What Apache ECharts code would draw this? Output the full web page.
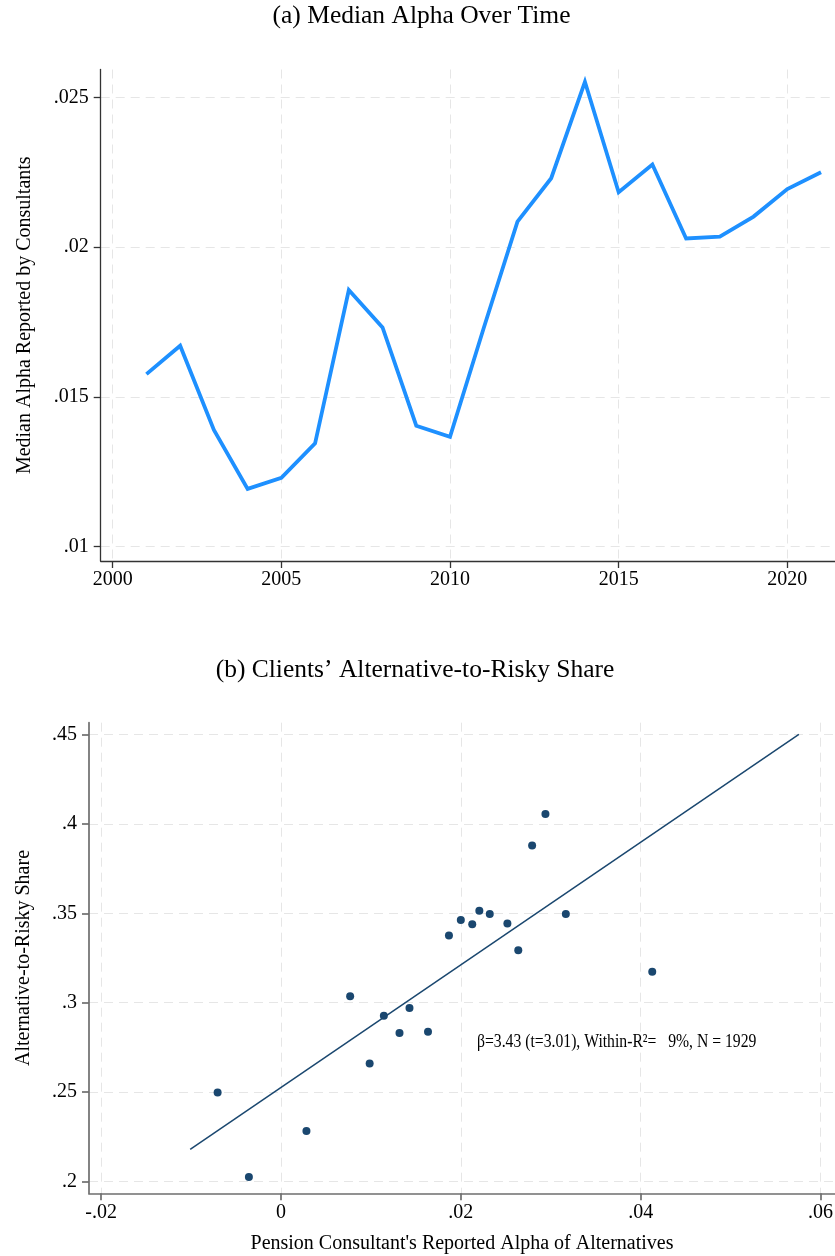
<!DOCTYPE html>
<html><head><meta charset="utf-8">
<script src="https://cdn.jsdelivr.net/npm/echarts@6/dist/echarts.min.js"></script>
<style>html,body{margin:0;padding:0;background:#fff}#c{width:835px;height:1256px}</style>
</head><body><div id="c"></div>
<script>
// ---- Panel (a) data ----
const years = [2001,2002,2003,2004,2005,2006,2007,2008,2009,2010,2011,2012,2013,2014,2015,2016,2017,2018,2019,2020,2021];
const medianAlpha = [0.01576,0.01671,0.01390,0.01193,0.01230,0.01345,0.01857,0.01732,0.01404,0.01367,0.01730,0.02085,0.02230,0.02552,0.02183,0.02276,0.02029,0.02035,0.02102,0.02194,0.02250];
const yearTicks = [2000,2005,2010,2015,2020];
const alphaTicks = [0.01,0.015,0.02,0.025];

// ---- Panel (b) data ----
const consultantAlpha = [-0.00705,-0.00357,0.00283,0.00769,0.00986,0.01144,0.01318,0.01429,0.01635,0.01868,0.02000,0.02127,0.02206,0.02322,0.02518,0.02639,0.02793,0.02941,0.03168,0.04129];
const altShare =        [0.2499,0.2026,0.2284,0.3036,0.2661,0.2928,0.2831,0.2971,0.2838,0.3376,0.3462,0.3438,0.3514,0.3496,0.3443,0.3294,0.3878,0.4054,0.3496,0.3173];
const fitLineX = [-0.0101, 0.0576];
const fitLineY = [0.2181, 0.4500];
const scatterXTicks = [-0.02,0,0.02,0.04,0.06];
const scatterYTicks = [0.2,0.25,0.3,0.35,0.4,0.45];
const annotationText = 'β=3.43 (t=3.01), Within-R²=   9%, N = 1929';
const annotationAt = [0.0218, 0.2782];

const titleA = '(a) Median Alpha Over Time';
const titleB = '(b) Clients\u2019 Alternative-to-Risky Share';

const FONT = '"Liberation Serif", "Times New Roman", serif';
const fmt = v => {
  let s = String(+v.toFixed(6));
  return s.replace(/^(-?)0\./, '$1.');
};

function axisCommon(color, w, ticks, isYear, margin) {
  return {
    type:'value',
    axisLine:{show:true, onZero:false, lineStyle:{color:color, width:w}},
    axisTick:{show:true, length:7, customValues:ticks, lineStyle:{color:color, width:w}},
    axisLabel:{customValues:ticks, color:'#000', fontSize:20, fontFamily:FONT, margin:margin,
      formatter: v => isYear ? String(v) : fmt(v)},
    splitLine:{show:true, lineStyle:{type:[9,6], color:'#e6e6e6', width:1}},
    nameTextStyle:{color:'#000', fontSize:20, fontFamily:FONT}
  };
}

const chart = echarts.init(document.getElementById('c'), null, {renderer:'canvas'});
const option = {
  animation:false,
  backgroundColor:'#fff',
  grid:[
    {left:100.7, top:69.5, width:734.3, height:491.5, containLabel:false, outerBoundsMode:'none'},
    {left:89, top:722.7, width:746, height:470.6, containLabel:false, outerBoundsMode:'none'}
  ],
  xAxis:[
    Object.assign(axisCommon('#333',1.3,yearTicks,true,9), {gridIndex:0, min:1999.644, max:2021.414}),
    Object.assign(axisCommon('#6e6e6e',1.7,scatterXTicks,false,9), {gridIndex:1, min:-0.021355, max:0.061617,
      name:"Pension Consultant's Reported Alpha of Alternatives", nameLocation:'middle', nameGap:40})
  ],
  yAxis:[
    Object.assign(axisCommon('#333',1.3,alphaTicks,false,12), {gridIndex:0, min:0.009523, max:0.02593,
      name:'Median Alpha Reported by Consultants', nameLocation:'middle', nameGap:66, nameRotate:90}),
    Object.assign(axisCommon('#6e6e6e',1.7,scatterYTicks,false,12), {gridIndex:1, min:0.19352, max:0.45648,
      name:'Alternative-to-Risky Share', nameLocation:'middle', nameGap:55, nameRotate:90})
  ],
  series:[
    {type:'line', xAxisIndex:0, yAxisIndex:0, showSymbol:false, symbol:'none',
      data: years.map((y,i)=>[y, medianAlpha[i]]),
      lineStyle:{color:'#1E90FF', width:3.8, join:'miter'}},
    {type:'line', xAxisIndex:1, yAxisIndex:1, showSymbol:false, symbol:'none',
      data: fitLineX.map((x,i)=>[x, fitLineY[i]]),
      lineStyle:{color:'#1a476f', width:1.5}},
    {type:'scatter', xAxisIndex:1, yAxisIndex:1, symbol:'circle', symbolSize:8,
      data: consultantAlpha.map((x,i)=>[x, altShare[i]]),
      itemStyle:{color:'#1a476f', opacity:1}}
  ]
};
chart.setOption(option);

const p = chart.convertToPixel({gridIndex:1}, annotationAt);
chart.setOption({
  graphic:[
    {type:'text', x:421.5, y:16.7, style:{text:titleA, fontSize:25.5, fontFamily:FONT, fill:'#000', align:'center', verticalAlign:'middle', textAlign:'center', textVerticalAlign:'middle'}},
    {type:'text', x:415, y:670, style:{text:titleB, fontSize:25.5, fontFamily:FONT, fill:'#000', align:'center', verticalAlign:'middle', textAlign:'center', textVerticalAlign:'middle'}},
    {type:'text', x:p[0], y:p[1], scaleX:0.826, style:{text:annotationText, fontSize:19, fontFamily:FONT, fill:'#000', align:'left', verticalAlign:'middle', textAlign:'left', textVerticalAlign:'middle'}}
  ]
});
</script></body></html>
